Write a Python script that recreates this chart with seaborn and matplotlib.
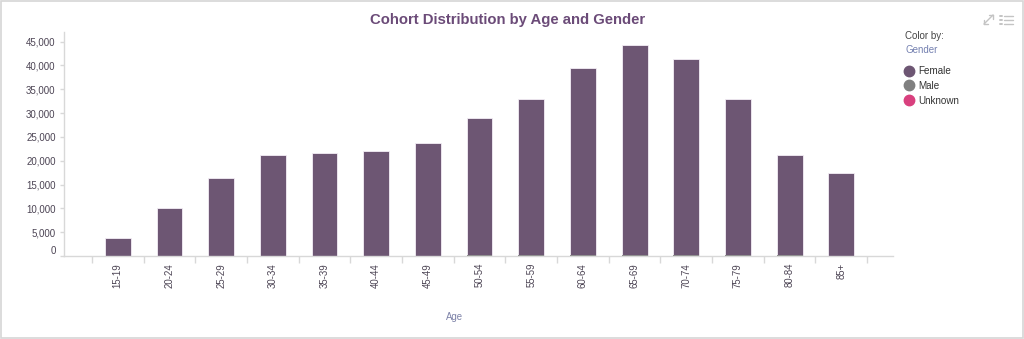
import matplotlib
matplotlib.use("Agg")
import matplotlib.pyplot as plt
import matplotlib.transforms as mtransforms
from matplotlib.lines import Line2D
from matplotlib.patches import Rectangle
import seaborn as sns
import pandas as pd
import numpy as np

# ---- data ----
age_groups = ["15-19", "20-24", "25-29", "30-34", "35-39", "40-44", "45-49",
              "50-54", "55-59", "60-64", "65-69", "70-74", "75-79", "80-84", "85+"]
female = [3830, 10150, 16380, 21100, 21640, 22060, 23750,
          28720, 32830, 39210, 44040, 41170, 32710, 21040, 17420]
male = [0, 0, 0, 0, 0, 0, 0, 160, 180, 200, 210, 200, 170, 120, 100]
unknown = [0] * 15
genders = ["Female", "Male", "Unknown"]
gender_colors = ["#6d5673", "#808080", "#d9407e"]
y_ticks = [0, 5000, 10000, 15000, 20000, 25000, 30000, 35000, 40000, 45000]
title = "Cohort Distribution by Age and Gender"

df = pd.DataFrame({"Age": age_groups, "Female": female, "Male": male, "Unknown": unknown})
df["Total"] = df["Female"] + df["Male"] + df["Unknown"]

sns.set_theme(style="white")
plt.rcParams["font.family"] = ["Liberation Sans", "DejaVu Sans"]

W, H = 1024, 339
fig = plt.figure(figsize=(W / 100, H / 100), dpi=100)
fig.patch.set_facecolor("white")
ax = fig.add_axes([64 / W, 1 - 256 / H, (893 - 64) / W, (256 - 32) / H])

# stacked: total in Female colour, Male drawn from zero on top
sns.barplot(data=df, x="Age", y="Total", order=age_groups, color=gender_colors[0],
            width=0.5, saturation=1, edgecolor="#f4eef5", linewidth=0.6, ax=ax)
sns.barplot(data=df, x="Age", y="Male", order=age_groups, color=gender_colors[1],
            width=0.5, saturation=1, linewidth=0, ax=ax)

ax.set_xlim(-1.04, 15.0)
ax.set_ylim(0, 47000)

axis_col = "#d8d8d8"
lab_col = "#4c4454"
for s in ["top", "right"]:
    ax.spines[s].set_visible(False)
for s in ["left", "bottom"]:
    ax.spines[s].set_color(axis_col)
    ax.spines[s].set_linewidth(1)

ax.set_yticks(y_ticks)
ax.set_yticklabels([f"{v:,}" for v in y_ticks], fontsize=7, color=lab_col)
ax.tick_params(axis="y", which="major", left=True, length=3, width=1, color=axis_col, pad=3)

ax.set_xticks(range(len(age_groups)))
ax.set_xticklabels(age_groups, rotation=90, fontsize=6.9, color=lab_col)
ax.tick_params(axis="x", which="major", bottom=False, length=0, pad=5)
ax.set_xticks(np.arange(-0.5, len(age_groups), 1.0), minor=True)
ax.tick_params(axis="x", which="minor", bottom=True, length=5, width=1, color=axis_col)
ax.set_xlabel("")
ax.set_ylabel("")
ax.grid(False)

# "0" label nudged upward as in reference
zero_lab = ax.get_yticklabels()[0]
zero_lab.set_transform(zero_lab.get_transform() +
                       mtransforms.ScaledTranslation(0, 6 / 100, fig.dpi_scale_trans))

# title & axis label
fig.text(508 / W, 1 - 20 / H, title, ha="center", va="center",
         fontsize=10.7, fontweight="bold", color="#6b4b78")
fig.text(454 / W, 1 - 317 / H, "Age", ha="center", va="center",
         fontsize=6.9, color="#7d82a8")

# legend block
fig.text(905 / W, 1 - 36 / H, "Color by:", ha="left", va="center", fontsize=7, color="#444444")
fig.text(905 / W, 1 - 50 / H, "Gender", ha="left", va="center", fontsize=7, color="#7480b0")
handles = [Line2D([], [], linestyle="none", marker="o", markersize=7.5,
                  markerfacecolor=c, markeredgecolor=c) for c in gender_colors]
leg = ax.legend(handles, genders, loc="upper left", bbox_to_anchor=(905 / W, 1 - 66 / H),
                bbox_transform=fig.transFigure, frameon=False, fontsize=7.1,
                handlelength=0.8, handletextpad=0.55, labelspacing=0.5, borderpad=0,
                borderaxespad=0)
for t in leg.get_texts():
    t.set_color("#333333")

# top-right icons (decorative)
ic = "#c4c4c4"
def fl(x0, y0, x1, y1, lw=1.0):
    fig.add_artist(Line2D([x0 / W, x1 / W], [1 - y0 / H, 1 - y1 / H],
                          color=ic, lw=lw, transform=fig.transFigure))
fl(984, 24, 993, 15)
fl(989, 15, 993, 15); fl(993, 15, 993, 19)
fl(984, 20, 984, 24); fl(984, 24, 988, 24)
for yy in (16, 20, 24):
    fl(1000, yy, 1002, yy, lw=1.4)
    fl(1004, yy, 1013, yy, lw=1.0)

# outer frame
fig.add_artist(Rectangle((0.5 / W, 1.5 / H), 1022.5 / W, 337 / H, transform=fig.transFigure,
                         fill=False, edgecolor="#d6d6d6", lw=1.2))

fig.savefig("out.png", dpi=100, facecolor="white")
